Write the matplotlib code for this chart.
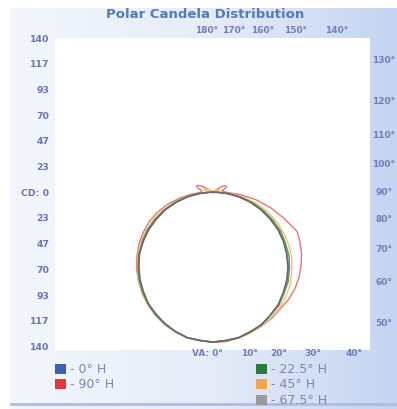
import numpy as np
import matplotlib
matplotlib.use('Agg')
import matplotlib.pyplot as plt
from matplotlib.patches import Patch
from matplotlib.colors import LinearSegmentedColormap

# vertical angles (deg from straight down) and candela values per plane
angles = [0, 5, 10, 15, 20, 25, 30, 35, 40, 45, 50, 55, 60, 65, 70, 75, 80, 85, 90,
          95, 100, 105, 110, 115, 120, 125, 130, 135, 180]

cd_0_right = [136, 135, 134, 131, 128, 123, 118, 112, 105, 97, 88, 79, 69, 58, 47, 36, 25, 14, 4,
              0, 0, 0, 0, 0, 0, 0, 0, 0, 0]
cd_0_left = [136, 135, 134, 131, 127, 123, 117, 111, 104, 96, 87, 78, 68, 57, 46, 35, 24, 13, 3,
             0, 0, 0, 0, 0, 0, 0, 0, 0, 0]
cd_22_right = [136, 135, 134, 131, 128, 123, 119, 112, 106, 98, 90, 80, 71, 60, 49, 38, 26, 15, 5,
               0, 0, 0, 0, 0, 0, 0, 0, 0, 0]
cd_22_left = [136, 135, 134, 131, 127, 123, 117, 111, 104, 96, 88, 78, 69, 58, 47, 36, 25, 13, 4,
              0, 0, 0, 0, 0, 0, 0, 0, 0, 0]
cd_45_right = [136, 135, 134, 132, 129, 125, 121, 115, 109, 101, 93, 84, 74, 64, 53, 42, 29, 17, 6,
               4, 3, 4, 6, 6, 5, 3, 1, 0, 0]
cd_45_left = [136, 135, 134, 131, 128, 123, 118, 112, 105, 97, 89, 80, 70, 60, 49, 38, 27, 15, 6,
              5, 5, 7, 9, 8, 5, 2, 0, 0, 0]
cd_67_right = [136, 135, 134, 131, 128, 123, 118, 111, 104, 96, 87, 78, 68, 57, 46, 35, 24, 13, 3,
               0, 0, 0, 0, 0, 0, 0, 0, 0, 0]
cd_67_left = [136, 135, 134, 131, 127, 122, 117, 110, 103, 95, 87, 77, 67, 56, 46, 34, 23, 12, 3,
              0, 0, 0, 0, 0, 0, 0, 0, 0, 0]
cd_90_right = [136, 136, 134, 132, 129, 126, 122, 119, 115, 110, 104, 98, 91, 84, 68, 54, 40, 25, 12,
               9, 8, 10, 13, 13, 12, 8, 3, 0, 0]
cd_90_left = [136, 135, 134, 131, 128, 123, 118, 112, 105, 98, 90, 82, 73, 64, 54, 43, 31, 20, 11,
              10, 11, 14, 16, 15, 10, 4, 0, 0, 0]

cd_ticks = [140, 116.67, 93.33, 70, 46.67, 23.33, 0, -23.33, -46.67, -70, -93.33, -116.67, -140]
cd_labels = ['140', '117', '93', '70', '47', '23', 'CD: 0', '23', '47', '70', '93', '117', '140']
top_angles = [180, 170, 160, 150, 140]
right_angles = [130, 120, 110, 100, 90, 80, 70, 60, 50]
bottom_angles = [10, 20, 30, 40]

W, H = 397, 409
PX = 1.104  # px per candela
ox, oy = 213, 192  # origin in px

fig = plt.figure(figsize=(W / 100, H / 100), dpi=100)

# background frame with light blue gradient
bg = fig.add_axes([10 / W, 0, 387 / W, 1 - 8 / H])
cmap = LinearSegmentedColormap.from_list('bg', ['#f3f6fc', '#e6edf9', '#c4d4f1'])
grad = np.tile(np.linspace(0, 1, 256), (10, 1))
bg.imshow(grad, cmap=cmap, aspect='auto', extent=[0, 1, 0, 1])
bg.axhline(0.012, color='#a9bde6', lw=2)
bg.set_xlim(0, 1)
bg.set_ylim(0, 1)
bg.axis('off')

ax = fig.add_axes([55 / W, 1 - 350 / H, 315 / W, 312 / H])
ax.set_facecolor('white')
xl = ((55 - ox) / PX, (370 - ox) / PX)
yl = ((oy - 350) / PX, (oy - 38) / PX)
ax.set_xlim(*xl)
ax.set_ylim(*yl)
for s in ax.spines.values():
    s.set_visible(False)
ax.set_xticks([])
ax.set_yticks(cd_ticks, cd_labels)
lab_col = '#6b72b6'
ax.tick_params(axis='y', length=0, pad=4, labelsize=6.7, labelcolor=lab_col)
for t in ax.get_yticklabels():
    t.set_fontweight('bold')

th = np.radians(angles)


def curve(right, left):
    r = np.array(right, float)
    l = np.array(left, float)
    xs = np.concatenate([-(l * np.sin(th))[::-1], r * np.sin(th)])
    ys = np.concatenate([-(l * np.cos(th))[::-1], -r * np.cos(th)])
    return xs, ys


series = [
    (cd_90_right, cd_90_left, '#f07070', 1.0),
    (cd_45_right, cd_45_left, '#f3c467', 1.0),
    (cd_0_right, cd_0_left, '#6f8fd6', 1.0),
    (cd_22_right, cd_22_left, '#5f9d66', 1.0),
    (cd_67_right, cd_67_left, '#6a6a6a', 1.2),
]
for r, l, c, w in series:
    xs, ys = curve(r, l)
    ax.plot(xs, ys, color=c, lw=w, solid_joinstyle='round')

# angle labels where rays from the origin meet the frame
ang_col = '#747cb9'
ytop = yl[1]
for a in top_angles:
    x = ytop * np.tan(np.radians(180 - a)) - 6 / PX
    ax.text(x, (oy - 30) / PX, f'{a}°', ha='center', va='center', fontsize=6.5,
            fontweight='bold', color=ang_col, clip_on=False)
xr = xl[1]
for a in right_angles:
    t = np.radians(a)
    y = -xr * np.cos(t) / np.sin(t)
    ax.text((384 - ox) / PX, y, f'{a}°', ha='center', va='center', fontsize=6.5,
            fontweight='bold', color=ang_col, clip_on=False)
yb = yl[0]
ax.text(10 / PX, (oy - 354) / PX, 'VA: 0°', ha='right', va='center', fontsize=6.5,
        fontweight='bold', color=ang_col, clip_on=False)
for a in bottom_angles:
    x = -yb * np.tan(np.radians(a))
    ax.text(x, (oy - 354) / PX, f'{a}°', ha='left', va='center', fontsize=6.5,
            fontweight='bold', color=ang_col, clip_on=False)

fig.text(205 / W, 1 - 15 / H, 'Polar Candela Distribution', ha='center', va='center',
         fontsize=9.5, fontweight='bold', color='#5578c2')

leg_kw = dict(frameon=False, borderpad=0, borderaxespad=0, handlelength=0.85,
              handleheight=0.85, handletextpad=0.35, labelspacing=0.2, fontsize=9,
              labelcolor='#7d86ad')
fig.legend(handles=[Patch(facecolor='#3d5fb3', edgecolor='none', label='- 0° H'),
                    Patch(facecolor='#e8343f', edgecolor='none', label='- 90° H')],
           loc='upper left', bbox_to_anchor=(55 / W, 1 - 363 / H), **leg_kw)
fig.legend(handles=[Patch(facecolor='#2f7a3e', edgecolor='none', label='- 22.5° H'),
                    Patch(facecolor='#f2a54a', edgecolor='none', label='- 45° H'),
                    Patch(facecolor='#9a9a9a', edgecolor='none', label='- 67.5° H')],
           loc='upper left', bbox_to_anchor=(256 / W, 1 - 363 / H), **leg_kw)

fig.savefig('out.png', dpi=100)
